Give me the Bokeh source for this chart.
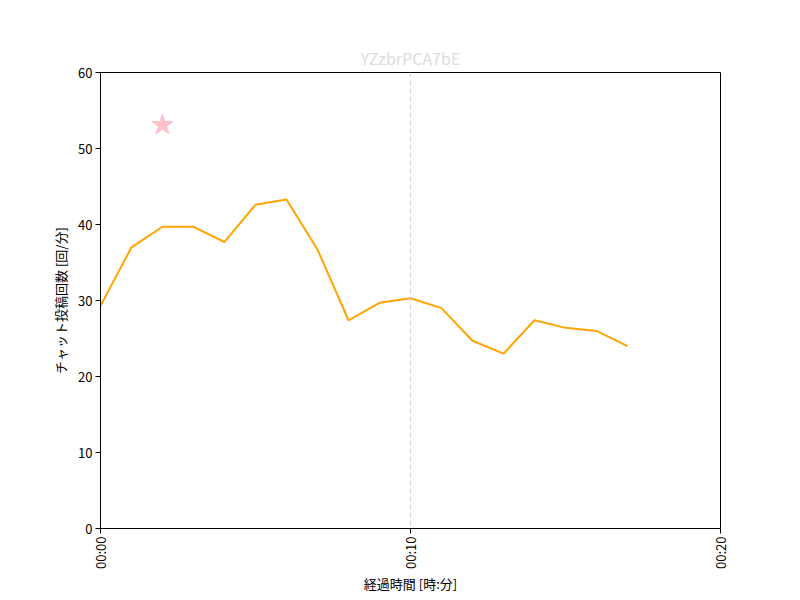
from bokeh.plotting import figure
from bokeh.models import Range1d, FixedTicker, Span
from bokeh.embed import file_html
from bokeh.resources import INLINE
import math

title_text = "YZzbrPCA7bE"
x_label = "経過時間 [時:分]"
y_label = "チャット投稿回数 [回/分]"

minutes = [0, 1, 2, 3, 4, 5, 6, 7, 8, 9, 10, 11, 12, 13, 14, 15, 16, 17]
counts = [29.3, 37.0, 39.7, 39.7, 37.7, 42.6, 43.3, 36.7, 27.4, 29.7, 30.3, 29.0, 24.7, 23.0, 27.4, 26.4, 26.0, 24.0]

star_x = [2]
star_y = [53.1]

vline_x = 10

x_ticks = [0, 10, 20]
x_tick_labels = ["00:00", "00:10", "00:20"]
y_ticks = [0, 10, 20, 30, 40, 50, 60]

FONT = "Noto Sans CJK JP"

p = figure(width=800, height=600, output_backend="svg", toolbar_location=None,
           x_range=Range1d(0, 20), y_range=Range1d(0, 60),
           min_border_left=100, min_border_right=80, min_border_top=72, min_border_bottom=72)

p.title.text = title_text
p.title.align = "center"
p.title.text_color = "#dcdcdc"
p.title.text_font = FONT
p.title.text_font_size = "16px"
p.title.text_font_style = "normal"
p.title.standoff = 5

p.xgrid.visible = False
p.ygrid.visible = False
p.outline_line_color = "black"
p.outline_line_width = 1
p.background_fill_color = "white"
p.border_fill_color = "white"

for ax in (p.xaxis[0], p.yaxis[0]):
    ax.axis_line_color = "black"
    ax.major_tick_line_color = "black"
    ax.major_tick_out = 5
    ax.major_tick_in = 0
    ax.minor_tick_line_color = None
    ax.major_label_text_font = FONT
    ax.major_label_text_font_size = "13px"
    ax.major_label_text_color = "black"
    ax.major_label_standoff = 3
    ax.axis_label_text_font = FONT
    ax.axis_label_text_font_size = "13px"
    ax.axis_label_text_font_style = "normal"
    ax.axis_label_text_color = "black"

p.xaxis.ticker = FixedTicker(ticks=x_ticks)
p.xaxis.major_label_overrides = {t: l for t, l in zip(x_ticks, x_tick_labels)}
p.xaxis.major_label_orientation = math.pi / 2
p.xaxis.axis_label = x_label
p.xaxis.axis_label_standoff = 2

p.yaxis.ticker = FixedTicker(ticks=y_ticks)
p.yaxis.axis_label = y_label
p.yaxis.axis_label_standoff = 5

p.add_layout(Span(location=vline_x, dimension="height", line_color="#d3d3d3",
                  line_dash="5 3", line_width=1))

p.line(minutes, counts, line_color="orange", line_width=2)
p.scatter(star_x, star_y, marker="star", size=22, fill_color="pink", line_color="pink")

open("out.html", "w").write(file_html(p, INLINE))
